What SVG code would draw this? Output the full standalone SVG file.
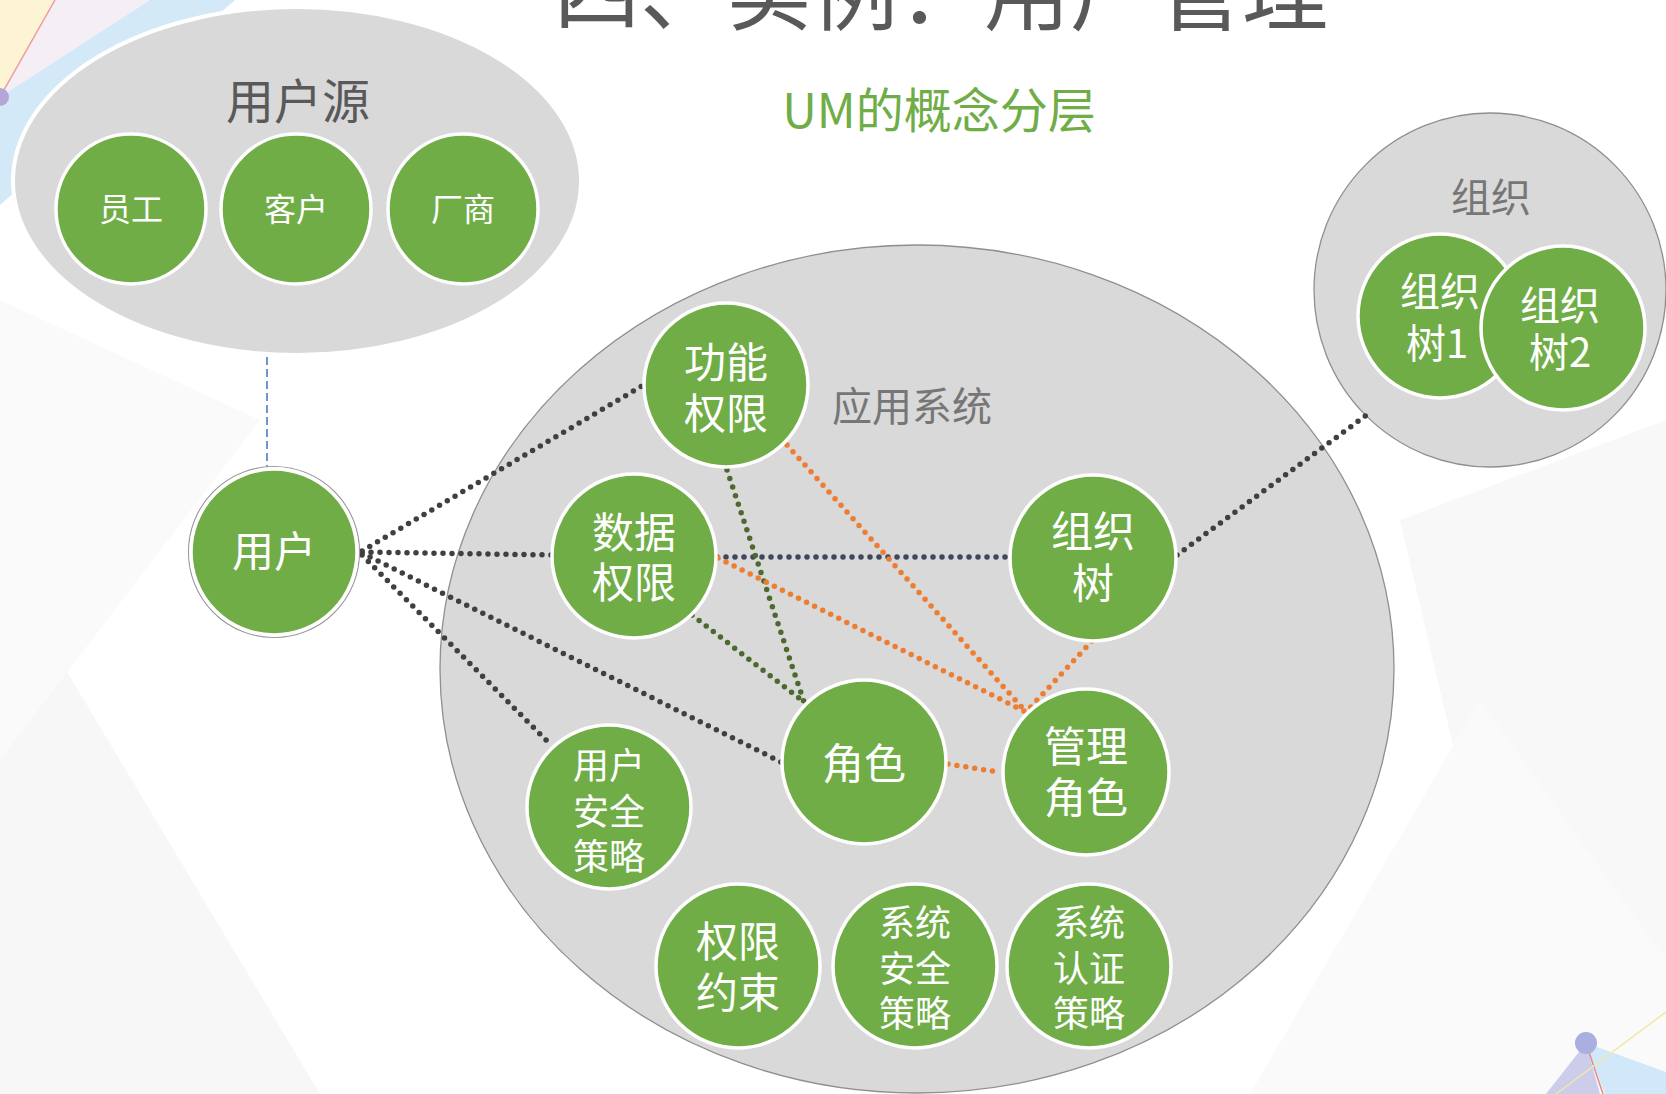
<svg xmlns="http://www.w3.org/2000/svg" width="1666" height="1094" viewBox="0 0 1666 1094">
<style>
text{font-family:"Noto Sans CJK SC","Noto Sans",sans-serif}
.g{fill:#70AD47;stroke:#ffffff;stroke-width:3.5}
.t{fill:#ffffff;text-anchor:middle}
.f42{font-size:42px}
.f36{font-size:36px}
.f32{font-size:32px}
.f40{font-size:40px}
.zone{fill:#d9d9d9;stroke:#8f8f8f;stroke-width:1.3}
.dot{fill:none;stroke-width:5.5;stroke-linecap:round;stroke-dasharray:0 9}
.dk{stroke:#404040}
.nv{stroke:#3f475e}
.gr{stroke:#4d6a2e}
.or{stroke:#ED7D31}
</style>
<rect width="1666" height="1094" fill="#ffffff"/>
<g id="background">
<polygon points="0,560 320,1094 0,1094" fill="#f7f7f7"/>
<polygon points="0,300 260,420 0,760" fill="#fafafa"/>
<polygon points="1400,520 1666,420 1666,1000 1480,860" fill="#f8f8f8"/>
<polygon points="1250,1094 1480,700 1666,960 1666,1094" fill="#fafafa"/>
<polygon points="0,0 55,0 0,97" fill="#fcf4d2"/>
<polygon points="55,0 150,0 0,97" fill="#f5eff5"/>
<polygon points="0,97 150,0 235,0 0,205" fill="#d3e9f8"/>
<line x1="55" y1="0" x2="0" y2="97" stroke="#ee9aa2" stroke-width="1.5"/>
<circle cx="0" cy="97" r="9" fill="#b4a6d8"/>
<polygon points="1586,1043 1546,1094 1600,1094" fill="#cbcdea"/>
<polygon points="1586,1043 1666,1072 1666,1094 1605,1094" fill="#d0e8f7"/>
<line x1="1586" y1="1043" x2="1603" y2="1094" stroke="#e08a8a" stroke-width="1.5"/>
<line x1="1556" y1="1094" x2="1666" y2="1012" stroke="#f1e7a6" stroke-width="1.5"/>
<circle cx="1586" cy="1043" r="11" fill="#a9afe0"/>
</g>
<g id="title">
<text x="941" y="24" font-size="86" fill="#595959" text-anchor="middle">四、实例：用户管理</text>
<text x="939" y="128" font-size="48" fill="#70AD47" text-anchor="middle">UM的概念分层</text>
</g>
<g id="zone-user-source">
<ellipse cx="297" cy="181" rx="284" ry="174" fill="#d9d9d9" stroke="#ffffff" stroke-width="4"/>
<text x="298" y="119" font-size="48" fill="#595959" text-anchor="middle">用户源</text>
</g>
<g id="zone-app">
<ellipse class="zone" cx="917" cy="669" rx="477" ry="424"/>
<text x="832" y="421" class="f40" fill="#767676">应用系统</text>
</g>
<g id="zone-org">
<ellipse class="zone" cx="1490" cy="290" rx="176" ry="177"/>
<text x="1491" y="212" class="f40" fill="#767676" text-anchor="middle">组织</text>
</g>
<g id="connectors">
<line x1="267" y1="357" x2="267" y2="467" stroke="#6d95cf" stroke-width="2" stroke-dasharray="8 4"/>
<line class="dot dk" x1="362" y1="551" x2="642" y2="386"/>
<line class="dot dk" x1="362" y1="552" x2="552" y2="555"/>
<line class="dot dk" x1="362" y1="553" x2="781" y2="762"/>
<line class="dot dk" x1="362" y1="555" x2="549" y2="743"/>
<line class="dot nv" x1="717" y1="557" x2="1010" y2="557"/>
<line class="dot dk" x1="1177" y1="555" x2="1368" y2="414"/>
<line class="dot gr" x1="727" y1="470" x2="804" y2="702"/>
<line class="dot gr" x1="692" y1="615" x2="804" y2="702"/>
<line class="dot or" x1="787" y1="445" x2="1026" y2="712"/>
<line class="dot or" x1="718" y1="558" x2="1026" y2="712"/>
<line class="dot or" x1="1092" y1="641" x2="1026" y2="712"/>
<line class="dot or" x1="948" y1="764" x2="998" y2="772"/>
</g>
<g id="n-yuangong"><circle class="g" cx="131" cy="209" r="75"/><text class="t f32" x="131" y="221">员工</text></g>
<g id="n-kehu"><circle class="g" cx="296" cy="209" r="75"/><text class="t f32" x="296" y="221">客户</text></g>
<g id="n-changshang"><circle class="g" cx="463" cy="209" r="75"/><text class="t f32" x="463" y="221">厂商</text></g>
<g id="n-user">
<circle cx="274" cy="552" r="85.5" fill="none" stroke="#9a9a9a" stroke-width="1.2"/>
<circle class="g" cx="274" cy="552" r="83" stroke-width="2.5"/>
<text class="t f42" x="274" y="567">用户</text>
</g>
<g id="n-func"><circle class="g" cx="726" cy="385" r="82"/><text class="t f42" x="726" y="378">功能<tspan x="726" dy="51">权限</tspan></text></g>
<g id="n-data"><circle class="g" cx="634" cy="556" r="82"/><text class="t f42" x="634" y="548">数据<tspan x="634" dy="50">权限</tspan></text></g>
<g id="n-orgtree"><circle class="g" cx="1093" cy="558" r="83"/><text class="t f42" x="1093" y="547">组织<tspan x="1093" dy="52">树</tspan></text></g>
<g id="n-role"><circle class="g" cx="864" cy="762" r="82"/><text class="t f42" x="864" y="779">角色</text></g>
<g id="n-admin"><circle class="g" cx="1086" cy="772" r="83"/><text class="t f42" x="1086" y="762">管理<tspan x="1086" dy="51">角色</tspan></text></g>
<g id="n-usersec"><circle class="g" cx="609" cy="807" r="82"/><text class="t f36" x="609" y="779">用户<tspan x="609" dy="46">安全</tspan><tspan x="609" dy="45">策略</tspan></text></g>
<g id="n-constraint"><circle class="g" cx="738" cy="966" r="82"/><text class="t f42" x="738" y="957">权限<tspan x="738" dy="51">约束</tspan></text></g>
<g id="n-syssec"><circle class="g" cx="915" cy="966" r="82"/><text class="t f36" x="915" y="936">系统<tspan x="915" dy="46">安全</tspan><tspan x="915" dy="45">策略</tspan></text></g>
<g id="n-sysauth"><circle class="g" cx="1089" cy="966" r="82"/><text class="t f36" x="1089" y="936">系统<tspan x="1089" dy="46">认证</tspan><tspan x="1089" dy="45">策略</tspan></text></g>
<g id="n-tree1"><circle class="g" cx="1440" cy="316" r="82"/><text class="t f40" x="1440" y="306">组织<tspan x="1437" dy="52">树1</tspan></text></g>
<g id="n-tree2"><circle class="g" cx="1563" cy="328" r="82"/><text class="t f40" x="1560" y="320">组织<tspan x="1560" dy="47">树2</tspan></text></g>
</svg>
